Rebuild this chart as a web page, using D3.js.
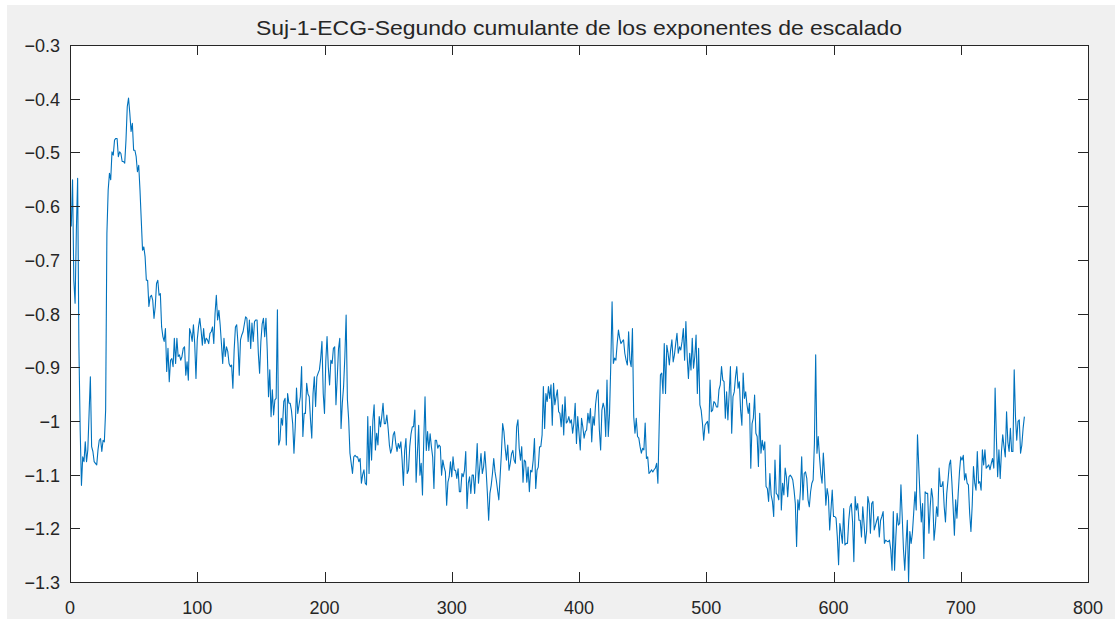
<!DOCTYPE html>
<html>
<head>
<meta charset="utf-8">
<script src="https://cdn.jsdelivr.net/npm/d3@7"></script>
<style>
  html, body { margin: 0; padding: 0; background: #ffffff; }
  svg { display: block; }
  text { font-family: "Liberation Sans", Arial, Helvetica, sans-serif; fill: #262626; }
</style>
</head>
<body>
<svg id="chart" width="1115" height="621"></svg>
<script>
// Title and axis ticks
const chartTitle = "Suj-1-ECG-Segundo cumulante de los exponentes de escalado";
const xTicks = [0, 100, 200, 300, 400, 500, 600, 700, 800];
const yTicks = [-1.3, -1.2, -1.1, -1, -0.9, -0.8, -0.7, -0.6, -0.5, -0.4, -0.3];
const yTickLabels = ["\u22121.3", "\u22121.2", "\u22121.1", "\u22121", "\u22120.9", "\u22120.8", "\u22120.7", "\u22120.6", "\u22120.5", "\u22120.4", "\u22120.3"];

// Second cumulant of the scaling exponents, one value per window (1..750)
const cumulant2 = [
  -0.638, -0.551, -0.738, -0.781, -0.645, -0.548, -0.862, -1.017, -1.12, -1.067,
  -1.076, -1.039, -1.076, -1.054, -0.986, -0.918, -1.048, -1.057, -1.076, -1.079,
  -1.082, -1.054, -1.036, -1.033, -1.057, -1.036, -1.039, -0.98, -0.651, -0.57,
  -0.539, -0.551, -0.499, -0.505, -0.477, -0.474, -0.474, -0.508, -0.499, -0.502,
  -0.517, -0.517, -0.52, -0.477, -0.415, -0.399, -0.427, -0.461, -0.446, -0.496,
  -0.496, -0.508, -0.536, -0.524, -0.57, -0.626, -0.682, -0.676, -0.694, -0.738,
  -0.738, -0.787, -0.769, -0.766, -0.775, -0.809, -0.787, -0.744, -0.738, -0.766,
  -0.763, -0.825, -0.843, -0.852, -0.828, -0.908, -0.865, -0.927, -0.887, -0.884,
  -0.899, -0.846, -0.893, -0.846, -0.88, -0.877, -0.887, -0.88, -0.865, -0.862,
  -0.915, -0.89, -0.924, -0.828, -0.837, -0.852, -0.821, -0.856, -0.921, -0.849,
  -0.825, -0.809, -0.831, -0.859, -0.828, -0.856, -0.846, -0.849, -0.856, -0.837,
  -0.834, -0.825, -0.856, -0.8, -0.766, -0.812, -0.794, -0.821, -0.856, -0.893,
  -0.846, -0.88, -0.862, -0.871, -0.893, -0.899, -0.896, -0.939, -0.868, -0.825,
  -0.821, -0.856, -0.915,
  -0.849, -0.84, -0.834, -0.82, -0.806, -0.809, -0.852, -0.812, -0.865, -0.818,
  -0.852, -0.815, -0.812, -0.812, -0.874, -0.911, -0.852, -0.82, -0.809, -0.843,
  -0.809, -0.868, -0.955, -0.905, -0.992, -0.942, -0.989, -0.961, -0.958, -0.793,
  -1.045, -1.036, -0.995, -1.008, -0.964, -0.958, -1.045, -0.949, -0.967, -0.967,
  -0.98, -1.005, -1.06, -1.011, -0.939, -0.986, -0.97, -0.955, -0.899, -1.029,
  -0.986, -0.986, -0.93, -0.95, -0.955, -0.998, -1.032, -0.949, -0.918, -0.973,
  -0.918, -0.911, -0.905, -0.884, -0.852, -0.949, -0.986, -0.89, -0.843, -0.9,
  -0.933, -0.887, -0.893, -0.865, -0.862, -0.97, -0.921, -0.866, -0.846, -1.014,
  -0.967, -0.936, -0.88, -0.803, -0.96, -0.998, -1.06, -1.079, -1.098, -1.067,
  -1.064, -1.067, -1.067, -1.076, -1.07, -1.116, -1.1, -1.091, -1.116, -1.119,
  -0.992, -1.098, -1.01, -1.073, -1.0, -0.97, -1.054, -1.023, -1.045, -0.992,
  -1.011, -0.992, -0.967, -1.005, -1.005, -0.989, -1.014, -1.045, -1.06, -1.051,
  -1.026, -1.02, -1.042, -1.057, -1.042, -1.051,
  -1.039, -1.073, -1.12, -1.055, -1.033, -1.098, -1.092, -1.048, -1.024, -1.011,
  -1.011, -0.98, -1.114, -1.061, -1.008, -1.101, -1.079, -1.138, -1.036, -0.955,
  -1.055, -1.02, -1.055, -1.024, -1.048, -1.067, -1.126, -1.036, -1.036, -1.051,
  -1.045, -1.048, -1.101, -1.073, -1.086, -1.095, -1.157, -1.114, -1.104, -1.076,
  -1.104, -1.067, -1.092, -1.092, -1.107, -1.089, -1.132, -1.132, -1.098, -1.104,
  -1.092, -1.057, -1.163, -1.116, -1.104, -1.135, -1.101, -1.101, -1.135, -1.092,
  -1.042, -1.116, -1.086, -1.061, -1.098, -1.086, -1.057, -1.092, -1.135, -1.185,
  -1.135, -1.12, -1.098, -1.07, -1.095, -1.11, -1.129, -1.147, -1.104, -1.061,
  -1.005, -1.02, -1.051, -1.073, -1.045, -1.092, -1.079, -1.061, -1.055, -1.073,
  -1.079, -1.011, -0.998, -1.051, -1.073, -1.048, -1.114, -1.073, -1.076, -1.114,
  -1.086, -1.132, -1.092, -1.095, -1.073, -1.033, -1.126, -1.092, -1.086, -1.048,
  -1.048, -1.026, -0.936, -1.014, -0.949, -0.964, -0.936, -0.958, -0.933, -1.008,
  -0.93, -0.97, -0.955, -0.942, -0.983, -0.986,
  -1.011, -0.97, -1.026, -0.955, -1.004, -1.001, -0.992, -1.004, -0.998, -1.023,
  -1.004, -0.967, -1.042, -0.992, -1.023, -1.054, -0.995, -1.011, -1.032, -1.02,
  -1.017, -0.986, -1.004, -0.977, -1.039, -0.992, -1.008, -0.97, -0.949, -0.942,
  -1.017, -1.054, -0.98, -0.967, -0.977, -1.029, -0.924, -1.029, -0.986, -0.893,
  -0.778, -0.893, -0.883, -0.887, -0.856, -0.831, -0.846, -0.856, -0.852, -0.849,
  -0.874, -0.887, -0.896, -0.834, -0.887, -0.899, -0.828, -0.992, -1.023, -0.995,
  -1.029, -1.032, -1.048, -1.06, -1.051, -1.054, -1.004, -1.07, -1.067, -1.098,
  -1.095, -1.091, -1.095, -1.091, -1.088, -1.079, -1.116, -1.011, -0.914, -0.911,
  -0.949, -0.856, -0.949, -0.859, -0.874, -0.896, -0.868, -0.849, -0.89, -0.877,
  -0.856, -0.837, -0.874, -0.862, -0.868, -0.852, -0.828, -0.887, -0.815, -0.88,
  -0.921, -0.874, -0.905, -0.846, -0.902, -0.88, -0.84, -0.949, -0.865, -0.97,
  -0.98, -1.004, -1.036, -1.008, -1.004, -1.001, -1.023, -0.924, -0.983, -0.98,
  -0.964, -0.967, -0.974, -0.974, -0.942,
  -0.933, -0.899, -0.924, -0.927, -0.995, -0.946, -0.998, -0.949, -0.899, -1.023,
  -0.955, -0.946, -0.918, -0.899, -0.939, -0.927, -0.98, -1.008, -0.911, -0.958,
  -0.946, -0.97, -0.986, -0.967, -1.088, -1.005, -0.995, -0.952, -1.023, -1.029,
  -1.085, -0.986, -1.06, -1.036, -1.054, -1.039, -1.122, -1.126, -1.15, -1.098,
  -1.138, -1.15, -1.178, -1.073, -1.135, -1.138, -1.147, -1.045, -1.166, -1.116,
  -1.138, -1.088, -1.104, -1.141, -1.104, -1.101, -1.104, -1.11, -1.129, -1.154,
  -1.234, -1.147, -1.166, -1.129, -1.067, -1.147, -1.098, -1.095, -1.107, -1.147,
  -1.16, -1.132, -1.116, -1.11, -1.042, -0.877, -1.06, -1.029, -1.067, -1.098,
  -1.116, -1.06, -1.101, -1.157, -1.126, -1.141, -1.203, -1.166, -1.129, -1.178,
  -1.178, -1.181, -1.216, -1.268, -1.191, -1.209, -1.228, -1.163, -1.231, -1.228,
  -1.228, -1.185, -1.16, -1.154, -1.188, -1.262, -1.141, -1.166, -1.154, -1.185,
  -1.185, -1.216, -1.16, -1.191, -1.228, -1.206, -1.141, -1.154, -1.209, -1.154,
  -1.15, -1.203, -1.194, -1.185, -1.178, -1.216,
  -1.185, -1.178, -1.169, -1.228, -1.222, -1.224, -1.225, -1.222, -1.24, -1.278,
  -1.169, -1.278, -1.216, -1.172, -1.194, -1.191, -1.119, -1.178, -1.24, -1.278,
  -1.228, -1.185, -1.299, -1.206, -1.228, -1.209, -1.172, -1.132, -1.166, -1.026,
  -1.085, -1.141, -1.188, -1.154, -1.256, -1.132, -1.135, -1.135, -1.209, -1.16,
  -1.126, -1.144, -1.222, -1.197, -1.16, -1.178, -1.088, -1.122, -1.122, -1.113,
  -1.16, -1.188, -1.135, -1.11, -1.082, -1.073, -1.113, -1.16, -1.213, -1.147,
  -1.181, -1.135, -1.095, -1.067, -1.073, -1.064, -1.11, -1.098, -1.116, -1.119,
  -1.172, -1.206, -1.157, -1.085, -1.116, -1.129, -1.057, -1.116, -1.113, -1.129,
  -1.054, -1.082, -1.054, -1.088, -1.085, -1.082, -1.091, -1.079, -1.07, -1.088,
  -0.939, -1.032, -1.104, -1.054, -1.107, -1.057, -1.026, -1.048, -1.067, -0.983,
  -1.039, -1.057, -1.014, -1.057, -1.057, -0.905, -0.992, -1.036, -1.001, -0.998,
  -1.06, -1.045, -1.014, -0.992
];

const W = 1115, H = 621;
const plot = { left: 70, right: 1088, top: 45, bottom: 582 };
const tickLen = 10;
const axisColor = "#262626";
const lineColor = "#0072BD";

const svg = d3.select("#chart");

// Figure background
svg.append("rect")
  .attr("x", 7).attr("y", 5)
  .attr("width", W - 7).attr("height", 614)
  .attr("fill", "#f0f0f0");

const x = d3.scaleLinear().domain([0, 800]).range([plot.left, plot.right]);
const y = d3.scaleLinear().domain([-1.3, -0.3]).range([plot.bottom, plot.top]);

// Axes area
svg.append("rect")
  .attr("x", plot.left).attr("y", plot.top)
  .attr("width", plot.right - plot.left).attr("height", plot.bottom - plot.top)
  .attr("fill", "#ffffff");

// Data line
const line = d3.line()
  .x((d, i) => x(i + 1))
  .y(d => y(d));

svg.append("path")
  .datum(cumulant2)
  .attr("fill", "none")
  .attr("stroke", lineColor)
  .attr("stroke-width", 1.1)
  .attr("stroke-linejoin", "round")
  .attr("d", line);

// Box and inward ticks on all four sides
const box = svg.append("g")
  .attr("stroke", axisColor)
  .attr("stroke-width", 1)
  .attr("shape-rendering", "crispEdges")
  .attr("fill", "none");

box.append("rect")
  .attr("x", plot.left + 0.5).attr("y", plot.top + 0.5)
  .attr("width", plot.right - plot.left).attr("height", plot.bottom - plot.top);

const xAxisBottom = d3.axisBottom(x).tickValues(xTicks).tickSizeInner(-tickLen).tickSizeOuter(0).tickFormat(() => "");
const xAxisTop = d3.axisTop(x).tickValues(xTicks).tickSizeInner(-tickLen).tickSizeOuter(0).tickFormat(() => "");
const yAxisLeft = d3.axisLeft(y).tickValues(yTicks).tickSizeInner(-tickLen).tickSizeOuter(0).tickFormat(() => "");
const yAxisRight = d3.axisRight(y).tickValues(yTicks).tickSizeInner(-tickLen).tickSizeOuter(0).tickFormat(() => "");

function styleAxis(g) {
  g.select(".domain").remove();
  g.selectAll(".tick line").attr("stroke", axisColor).attr("shape-rendering", "crispEdges");
}

svg.append("g").attr("transform", `translate(0,${plot.bottom})`).call(xAxisBottom).call(styleAxis);
svg.append("g").attr("transform", `translate(0,${plot.top})`).call(xAxisTop).call(styleAxis);
svg.append("g").attr("transform", `translate(${plot.left},0)`).call(yAxisLeft).call(styleAxis);
svg.append("g").attr("transform", `translate(${plot.right},0)`).call(yAxisRight).call(styleAxis);

// Tick labels
svg.append("g").selectAll("text")
  .data(xTicks)
  .join("text")
  .attr("x", d => x(d))
  .attr("y", 614)
  .attr("text-anchor", "middle")
  .attr("font-size", 18)
  .text(d => String(d));

svg.append("g").selectAll("text")
  .data(yTicks)
  .join("text")
  .attr("x", plot.left - 10)
  .attr("y", d => y(d) + 7)
  .attr("text-anchor", "end")
  .attr("font-size", 18)
  .text((d, i) => yTickLabels[i]);

// Title, stretched to the width of the Helvetica rendering
svg.append("text")
  .attr("x", (plot.left + plot.right) / 2)
  .attr("y", 35)
  .attr("text-anchor", "middle")
  .attr("font-size", 21)
  .attr("textLength", 646)
  .attr("lengthAdjust", "spacingAndGlyphs")
  .text(chartTitle);
</script>
</body>
</html>
